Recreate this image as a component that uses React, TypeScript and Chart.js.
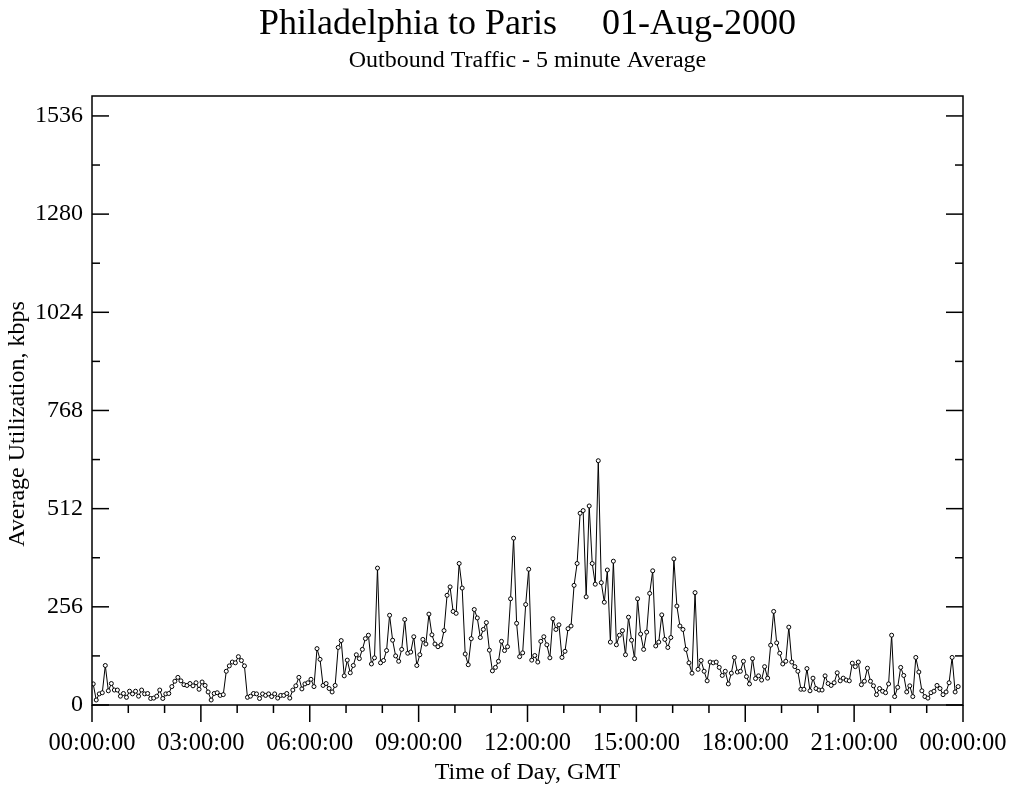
import React, { useEffect, useRef } from 'react';
import { Chart, registerables } from 'chart.js';

Chart.register(...registerables);

const TITLE = 'Philadelphia to Paris     01-Aug-2000';
const SUBTITLE = 'Outbound Traffic - 5 minute Average';
const X_TITLE = 'Time of Day, GMT';
const Y_TITLE = 'Average Utilization, kbps';

const SAMPLE_MINUTES = 5;

// kbps, 5-minute averages, in 3-hour blocks
const kbps0003 = [55, 13, 29, 32, 103, 37, 56, 39, 39, 23, 30, 20, 36, 29, 36, 23, 39, 29, 30, 17, 18, 23, 39, 17, 29, 30, 48, 62, 72, 63, 53, 51, 56, 50, 58, 41];
const kbps0306 = [60, 51, 34, 13, 30, 32, 25, 27, 88, 102, 112, 110, 126, 116, 102, 20, 23, 30, 29, 17, 29, 25, 29, 22, 29, 18, 25, 25, 30, 18, 39, 50, 72, 42, 55, 58];
const kbps0609 = [67, 48, 147, 119, 51, 56, 43, 34, 51, 150, 168, 76, 117, 84, 103, 131, 121, 145, 173, 182, 107, 123, 357, 110, 116, 142, 234, 169, 128, 114, 145, 223, 135, 138, 178, 103];
const kbps0912 = [131, 171, 159, 237, 183, 159, 152, 157, 194, 286, 308, 244, 239, 369, 305, 133, 105, 173, 249, 227, 176, 197, 215, 143, 89, 98, 114, 166, 142, 152, 277, 435, 213, 126, 136, 262];
const kbps1215 = [354, 117, 129, 112, 166, 178, 157, 123, 225, 197, 209, 124, 140, 199, 206, 312, 369, 500, 507, 282, 519, 369, 315, 637, 319, 268, 352, 164, 375, 157, 182, 194, 131, 229, 169];
const kbps1518 = [121, 277, 185, 145, 190, 291, 350, 154, 164, 235, 171, 150, 176, 381, 258, 206, 197, 145, 110, 83, 293, 93, 116, 88, 63, 112, 110, 112, 98, 77, 88, 55, 83, 124, 86];
const kbps1821 = [88, 114, 74, 55, 121, 69, 76, 65, 100, 70, 156, 244, 162, 135, 107, 114, 203, 112, 100, 88, 41, 41, 95, 37, 70, 43, 39, 39, 76, 56, 51, 58, 84, 63, 70, 65];
const kbps2124 = [63, 109, 100, 112, 53, 62, 96, 62, 50, 27, 43, 36, 32, 55, 182, 22, 46, 98, 77, 34, 50, 22, 124, 86, 37, 22, 18, 32, 36, 51, 43, 27, 34, 58, 124, 34, 48];

const X_TICK_LABELS = ['00:00:00', '03:00:00', '06:00:00', '09:00:00', '12:00:00', '15:00:00', '18:00:00', '21:00:00', '00:00:00'];
const Y_TICK_VALUES = [0, 256, 512, 768, 1024, 1280, 1536];

const X_MAX = 1440;
const X_STEP = 180;
const Y_MAX = 1588;
const Y_STEP = 256;

const SERIF = '"Liberation Serif", "Times New Roman", serif';

const frameAndTitles = {
  id: 'frameAndTitles',
  afterDraw(chart: any) {
    const { ctx, chartArea, scales } = chart;
    const { left, right, top, bottom } = chartArea;
    const xs = scales.x;
    const ys = scales.y;
    ctx.save();
    ctx.strokeStyle = '#000';
    ctx.lineWidth = 1.5;
    ctx.strokeRect(left, top, right - left, bottom - top);
    const seg = (x1: number, y1: number, x2: number, y2: number) => {
      ctx.beginPath();
      ctx.moveTo(x1, y1);
      ctx.lineTo(x2, y2);
      ctx.stroke();
    };
    for (let v = 0; v <= Y_TICK_VALUES[Y_TICK_VALUES.length - 1]; v += Y_STEP / 2) {
      const py = ys.getPixelForValue(v);
      const len = v % Y_STEP === 0 ? 17 : 8;
      seg(left, py, left + len, py);
      seg(right, py, right - len, py);
    }
    for (let m = 0; m <= X_MAX; m += 60) {
      const px = xs.getPixelForValue(m);
      const len = m % X_STEP === 0 ? 17 : 8;
      seg(px, bottom, px, bottom + len);
    }
    const cx = (left + right) / 2;
    ctx.fillStyle = '#000';
    ctx.textAlign = 'center';
    ctx.textBaseline = 'alphabetic';
    ctx.font = `36px ${SERIF}`;
    ctx.fillText(TITLE, cx, 34);
    ctx.font = `24px ${SERIF}`;
    ctx.fillText(SUBTITLE, cx, 67);
    ctx.save();
    ctx.translate(18, 424);
    ctx.rotate(-Math.PI / 2);
    ctx.textBaseline = 'middle';
    ctx.font = `24px ${SERIF}`;
    ctx.fillText(Y_TITLE, 0, 0);
    ctx.restore();
    ctx.restore();
  },
};

export default function App() {
  const ref = useRef<HTMLCanvasElement | null>(null);

  useEffect(() => {
    document.body.style.margin = '0';
    const values = [...kbps0003, ...kbps0306, ...kbps0609, ...kbps0912, ...kbps1215, ...kbps1518, ...kbps1821, ...kbps2124];
    const points = values.map((v, i) => ({ x: i * SAMPLE_MINUTES + 2, y: v }));
    const chart = new Chart(ref.current as HTMLCanvasElement, {
      type: 'line',
      data: {
        datasets: [
          {
            data: points,
            borderColor: '#000',
            borderWidth: 1,
            pointRadius: 2,
            pointBorderWidth: 1,
            pointBorderColor: '#000',
            pointBackgroundColor: '#fff',
            tension: 0,
          },
        ],
      },
      plugins: [frameAndTitles],
      options: {
        responsive: false,
        animation: false,
        events: [],
        layout: { padding: { top: 96, right: 46, left: 0, bottom: 0 } },
        plugins: {
          legend: { display: false },
          tooltip: { enabled: false },
        },
        scales: {
          x: {
            type: 'linear',
            min: 0,
            max: X_MAX,
            grid: { display: false, drawTicks: false },
            border: { display: false },
            afterFit: (s: any) => {
              s.height = 83;
              s.paddingLeft = 0;
              s.paddingRight = 0;
            },
            afterBuildTicks: (s: any) => {
              s.ticks = X_TICK_LABELS.map((_, i) => ({ value: i * X_STEP }));
            },
            ticks: {
              padding: 24,
              color: '#000',
              font: { family: SERIF, size: 24.5, lineHeight: 1.2 },
              maxRotation: 0,
              minRotation: 0,
              autoSkip: false,
              callback: (v: any) => X_TICK_LABELS[Math.round(Number(v) / X_STEP)] ?? '',
            },
            title: {
              display: true,
              text: X_TITLE,
              color: '#000',
              font: { family: SERIF, size: 24, lineHeight: 1.2 },
              padding: { top: 0, bottom: 1 },
            },
          },
          y: {
            type: 'linear',
            min: 0,
            max: Y_MAX,
            grid: { display: false, drawTicks: false },
            border: { display: false },
            afterFit: (s: any) => {
              s.width = 92;
              s.paddingTop = 0;
              s.paddingBottom = 0;
            },
            afterBuildTicks: (s: any) => {
              s.ticks = Y_TICK_VALUES.map((v) => ({ value: v }));
            },
            ticks: {
              padding: 9,
              color: '#000',
              autoSkip: false,
              font: { family: SERIF, size: 24, lineHeight: 1.2 },
              callback: (v: any) => String(v),
            },
            title: { display: false },
          },
        },
      },
    });
    return () => chart.destroy();
  }, []);

  return (
    <div style={{ position: 'absolute', left: 0, top: 0, width: 1009, height: 788, background: '#fff' }}>
      <canvas ref={ref} width={1009} height={788} />
    </div>
  );
}
